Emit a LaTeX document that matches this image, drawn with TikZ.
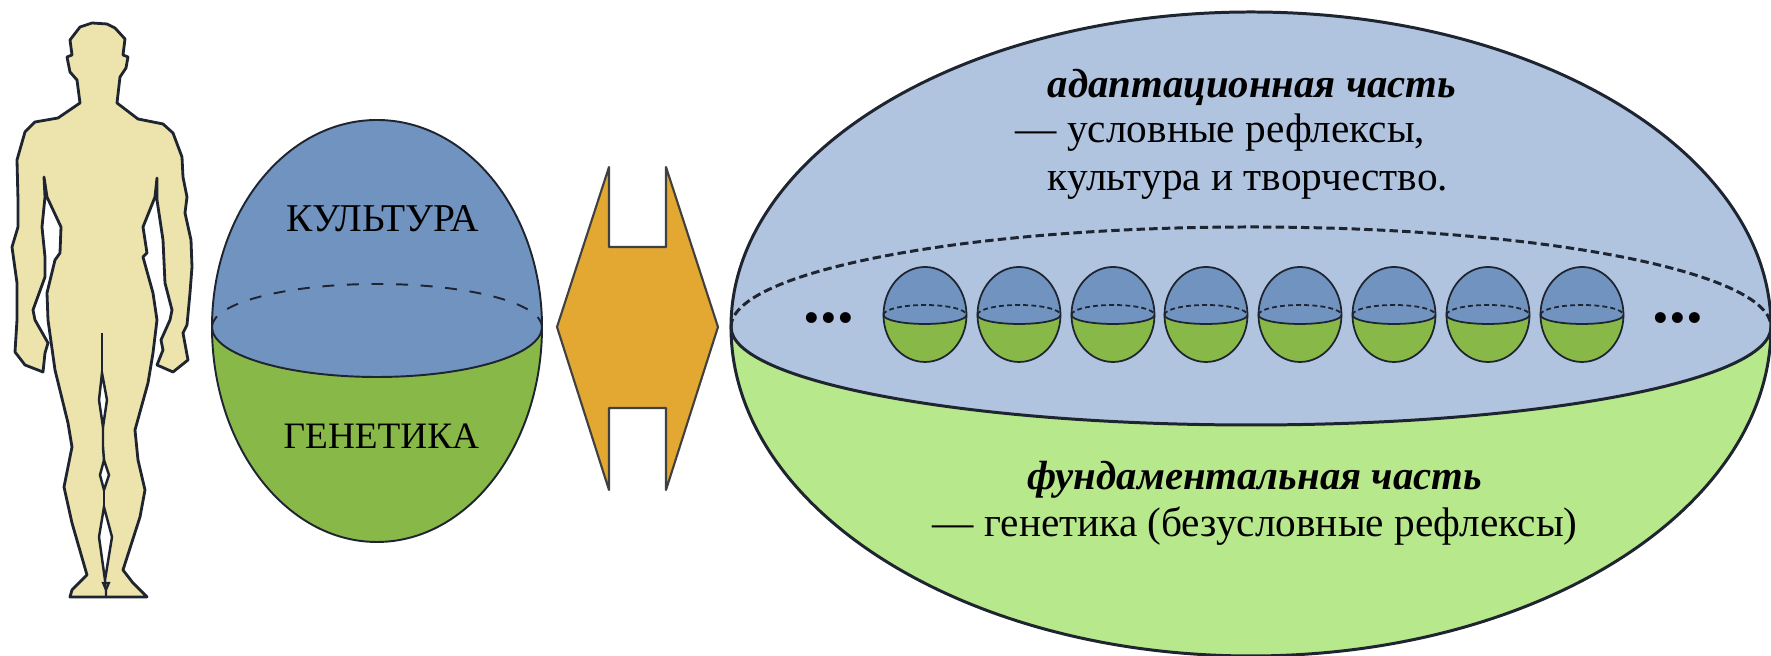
\documentclass[tikz,border=0pt]{standalone}
\usepackage{fontspec}
\setmainfont{Liberation Serif}
\definecolor{midblue}{HTML}{7093C0}
\definecolor{midgreen}{HTML}{88B848}
\definecolor{paleblue}{HTML}{B0C3DF}
\definecolor{palegreen}{HTML}{B8E88C}
\definecolor{arrowgold}{HTML}{E2A832}
\definecolor{bodyskin}{HTML}{EDE3AC}
\definecolor{inkline}{HTML}{1E2530}
\tikzset{
	bigglobe/.style={line width=0.85pt, backline/.style={dash pattern=on 2.4pt off 1.2pt}},
	midglobe/.style={line width=0.55pt, backline/.style={dash pattern=on 3.4pt off 3.6pt}},
	tinyglobe/.style={line width=0.5pt, backline/.style={dash pattern=on 1.4pt off 0.9pt}},
	capslabel/.style={anchor=base west, inner sep=0pt, font=\fontsize{11.2}{13}\selectfont},
	capsnarrow/.style={capslabel, font=\fontsize{10.6}{13}\selectfont},
	bigtext/.style={anchor=base west, inner sep=0pt, font=\fontsize{11.75}{15}\selectfont},
	bighead/.style={bigtext, font=\fontsize{11.6}{15}\selectfont\bfseries\itshape},
	dotslabel/.style={anchor=base west, inner sep=0pt, font=\fontsize{19}{20}\selectfont\bfseries}
}
\def\globe[#1/#2/#3](#4)(#5:#6:#7:#8:#9){
	\begin{scope}[shift={(#4)}, #3, draw=inkline]
		\fill[#2] (-#5, 0) arc (180:360:#5 and #7) -- cycle;
		\fill[#1] (-#5, 0) arc (180:0:#5 and #6) arc (360:180:#5 and #8) -- cycle;
		\draw (-#5, 0) arc (180:0:#5 and #6) arc (0:-180:#5 and #7);
		\draw (-#5, 0) arc (180:360:#5 and #8);
		\draw[backline] (-#5, 0) arc (180:0:#5 and #9);
	\end{scope}
}

\begin{document}
\begin{tikzpicture}
	\useasboundingbox (0, 0) rectangle (17.71, 6.56);
	%%%%% START %%%%%

	% body
	\draw[fill=bodyskin, draw=inkline, line width=0.8pt, line join=round]
		(0.92, 6.33) -- (1.07, 6.32) -- (1.15, 6.28) -- (1.25, 6.17) -- (1.23, 6.01) -- (1.28, 5.99) -- (1.26, 5.88) -- (1.20, 5.79) -- (1.17, 5.53)
		-- (1.38, 5.37) -- (1.63, 5.32) -- (1.73, 5.23) -- (1.82, 4.99) -- (1.83, 4.79) -- (1.87, 4.59) -- (1.85, 4.43) -- (1.91, 4.16) -- (1.92, 3.89) -- (1.90, 3.63) -- (1.87, 3.31)
		-- (1.83, 3.23) -- (1.88, 2.96) -- (1.73, 2.84) -- (1.57, 2.91) -- (1.63, 3.06) -- (1.61, 3.16) -- (1.70, 3.36)
		-- (1.72, 3.46) -- (1.65, 3.73) -- (1.63, 4.16) -- (1.57, 4.56) -- (1.57, 4.78)
		-- (1.55, 4.59) -- (1.43, 4.29) -- (1.47, 4.03) -- (1.43, 3.99) -- (1.53, 3.63) -- (1.57, 3.36) -- (1.53, 3.03) -- (1.48, 2.73)
		-- (1.35, 2.26) -- (1.38, 1.96) -- (1.45, 1.66) -- (1.40, 1.39) -- (1.23, 0.86) -- (1.33, 0.73) -- (1.47, 0.59)
		-- (0.70, 0.59) -- (0.72, 0.66) -- (0.87, 0.81) -- (0.72, 1.33) -- (0.64, 1.69) -- (0.72, 2.09) -- (0.68, 2.33) -- (0.55, 2.86) -- (0.48, 3.36)
		-- (0.47, 3.63) -- (0.55, 3.96) -- (0.60, 4.03) -- (0.61, 4.29) -- (0.47, 4.59) -- (0.44, 4.79)
		-- (0.45, 4.59) -- (0.42, 4.29) -- (0.45, 3.99) -- (0.45, 3.79) -- (0.33, 3.46) -- (0.35, 3.36) -- (0.48, 3.13) -- (0.45, 3.03) -- (0.43, 2.84)
		-- (0.25, 2.91) -- (0.15, 3.04) -- (0.17, 3.36) -- (0.17, 3.73) -- (0.12, 4.09) -- (0.18, 4.29) -- (0.18, 4.56) -- (0.17, 4.96)
		-- (0.25, 5.24) -- (0.35, 5.34) -- (0.58, 5.38) -- (0.80, 5.53) -- (0.77, 5.76) -- (0.70, 5.84) -- (0.67, 5.99) -- (0.72, 6.01) -- (0.70, 6.16) -- (0.80, 6.29) -- cycle;
	\draw[draw=inkline, line width=0.6pt] (1.02, 3.23) -- (1.02, 2.83);
	\draw[fill=white, draw=inkline, line width=0.7pt] (1.02, 2.83) -- (1.07, 2.56) -- (1.03, 2.29) -- (0.99, 2.56) -- cycle;
	\draw[draw=inkline, line width=0.7pt] (1.03, 2.29) -- (1.03, 2.09) -- (1.04, 1.96);
	\draw[fill=white, draw=inkline, line width=0.7pt] (1.04, 1.96) -- (1.09, 1.81) -- (1.04, 1.66) -- (1.00, 1.81) -- cycle;
	\draw[draw=inkline, line width=0.7pt] (1.04, 1.66) -- (1.04, 1.49);
	\draw[fill=white, draw=inkline, line width=0.7pt] (1.04, 1.49) -- (1.12, 1.19) -- (1.05, 0.76) -- (0.99, 1.19) -- cycle;
	\draw[draw=inkline, line width=0.6pt] (1.05, 0.76) -- (1.06, 0.66) -- (1.06, 0.59);
	\draw[draw=inkline, line width=0.6pt] (1.03, 0.73) -- (1.09, 0.73) -- (1.06, 0.66) -- cycle;

	% left globe
	\globe[midblue/midgreen/midglobe](3.77, 3.29)(1.65:2.07:2.15:0.50:0.43);
	\node[capslabel] (culture) at (2.86, 4.24) {КУЛЬТУРА};
	\node[capsnarrow] (genetics) at (2.83, 2.07) {ГЕНЕТИКА};

	% double arrow
	\draw[fill=arrowgold, draw=black!75, line width=0.6pt, line join=round]
		(5.57, 3.29) -- (6.09, 4.89) -- (6.09, 4.09) -- (6.66, 4.09) -- (6.66, 4.89) -- (7.18, 3.29)
		-- (6.66, 1.66) -- (6.66, 2.48) -- (6.09, 2.48) -- (6.09, 1.66) -- cycle;

	% right globe
	\globe[paleblue/palegreen/bigglobe](12.51, 3.29)(5.20:3.15:3.29:0.98:1.00);
	\node[bighead] (adaptpart) at (10.47, 5.58) {адаптационная часть};
	\node[bigtext] (reflexes) at (10.15, 5.13) {— условные рефлексы,};
	\node[bigtext] (creation) at (10.47, 4.65) {культура и творчество.};
	\node[bighead] (basepart) at (10.27, 1.66) {фундаментальная часть};
	\node[bigtext] (inborn) at (9.32, 1.19) {— генетика (безусловные рефлексы)};

	% row of small globes
	\globe[midblue/midgreen/tinyglobe](9.25, 3.41)(0.415:0.48:0.47:0.09:0.10);
	\globe[midblue/midgreen/tinyglobe](10.19, 3.41)(0.415:0.48:0.47:0.09:0.10);
	\globe[midblue/midgreen/tinyglobe](11.13, 3.41)(0.415:0.48:0.47:0.09:0.10);
	\globe[midblue/midgreen/tinyglobe](12.06, 3.41)(0.415:0.48:0.47:0.09:0.10);
	\globe[midblue/midgreen/tinyglobe](13.00, 3.41)(0.415:0.48:0.47:0.09:0.10);
	\globe[midblue/midgreen/tinyglobe](13.94, 3.41)(0.415:0.48:0.47:0.09:0.10);
	\globe[midblue/midgreen/tinyglobe](14.88, 3.41)(0.415:0.48:0.47:0.09:0.10);
	\globe[midblue/midgreen/tinyglobe](15.82, 3.41)(0.415:0.48:0.47:0.09:0.10);
	\node[dotslabel] (dotsleft) at (8.03, 3.33) {...};
	\node[dotslabel] (dotsright) at (16.52, 3.33) {...};

	%%%%% END %%%%%
\end{tikzpicture}
\end{document}
